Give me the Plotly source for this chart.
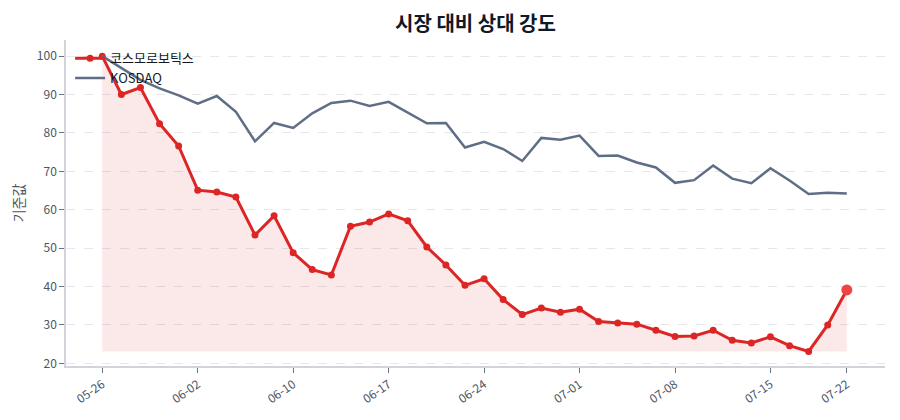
import plotly.graph_objects as go

# trading days (MM-DD)
dates = ["05-26", "05-27", "05-28", "05-29", "05-30",
         "06-02", "06-04", "06-05", "06-06", "06-09",
         "06-10", "06-11", "06-12", "06-13", "06-16",
         "06-17", "06-18", "06-19", "06-20", "06-23",
         "06-24", "06-25", "06-26", "06-27", "06-30",
         "07-01", "07-02", "07-03", "07-04", "07-07",
         "07-08", "07-09", "07-10", "07-11", "07-14",
         "07-15", "07-16", "07-17", "07-18", "07-22"]

# relative strength, base 100
stock = [100.0, 90.0, 91.8, 82.4, 76.6, 65.1, 64.6, 63.3, 53.4, 58.4,
         48.8, 44.4, 43.0, 55.7, 56.8, 58.9, 57.1, 50.3, 45.6, 40.3,
         42.0, 36.6, 32.7, 34.4, 33.3, 34.1, 30.9, 30.5, 30.2, 28.6,
         27.0, 27.1, 28.6, 26.0, 25.3, 26.9, 24.6, 23.1, 30.0, 39.1]

kosdaq = [100.0, 96.8, 93.8, 91.6, 89.8, 87.6, 89.6, 85.5, 77.8, 82.6,
          81.3, 85.1, 87.8, 88.4, 87.0, 88.1, 85.4, 82.5, 82.6, 76.2,
          77.7, 75.8, 72.7, 78.7, 78.2, 79.3, 74.0, 74.1, 72.3, 71.0,
          67.0, 67.7, 71.5, 68.1, 66.9, 70.8, 67.6, 64.1, 64.4, 64.2]

tick_labels = ["05-26", "06-02", "06-10", "06-17", "06-24",
               "07-01", "07-08", "07-15", "07-22"]

stock_name = "코스모로보틱스"
font_family = "Noto Sans CJK KR, Noto Sans, sans-serif"

fig = go.Figure()

# shaded area between the line and its lowest value
fig.add_trace(go.Scatter(x=dates, y=[min(stock)] * len(stock), mode="lines",
                         line=dict(width=0, color="rgba(0,0,0,0)"),
                         showlegend=False, hoverinfo="skip"))
fig.add_trace(go.Scatter(x=dates, y=stock, mode="lines",
                         fill="tonexty", fillcolor="rgba(220,38,38,0.1)",
                         line=dict(width=0, color="rgba(0,0,0,0)"),
                         showlegend=False, hoverinfo="skip"))

fig.add_trace(go.Scatter(x=dates, y=stock, mode="lines+markers", name=stock_name,
                         line=dict(color="#dc2626", width=3),
                         marker=dict(color="#dc2626", size=7)))
fig.add_trace(go.Scatter(x=dates, y=kosdaq, mode="lines", name="KOSDAQ",
                         line=dict(color="#5f6e86", width=2.5)))
# highlight latest point
fig.add_trace(go.Scatter(x=dates[-1:], y=stock[-1:], mode="markers",
                         marker=dict(color="#ef4444", size=11),
                         showlegend=False))

fig.update_layout(
    width=900, height=420,
    margin=dict(l=58, r=23, t=32, b=62),
    paper_bgcolor="white", plot_bgcolor="white",
    font=dict(family=font_family, size=12, color="#4b5563"),
    title=dict(text="<b>시장 대비 상대 강도</b>", xref="paper", x=0.5, xanchor="center",
               y=0.962, yanchor="middle",
               font=dict(size=20, color="#111827", family=font_family)),
    legend=dict(x=0.005, y=0.99, xanchor="left", yanchor="top",
                traceorder="normal", bgcolor="rgba(0,0,0,0)",
                font=dict(size=13, color="#111827"), tracegroupgap=0),
    showlegend=True,
)
fig.update_xaxes(type="category", range=[-1.9, 41], tickmode="array",
                 tickvals=tick_labels, ticktext=tick_labels, tickangle=-35,
                 ticks="outside", ticklen=5, tickcolor="#6b7280",
                 showline=True, linecolor="#d1d5db", linewidth=1.5,
                 showgrid=False, zeroline=False, automargin=False)
fig.update_yaxes(range=[19.3, 104.2], dtick=10, title=dict(text="기준값", standoff=10),
                 ticks="outside", ticklen=5, tickcolor="#6b7280",
                 showline=True, linecolor="#d1d5db", linewidth=1.5,
                 gridcolor="#e5e7eb", griddash="dash", zeroline=False,
                 automargin=False)

fig.write_html("out.html")
